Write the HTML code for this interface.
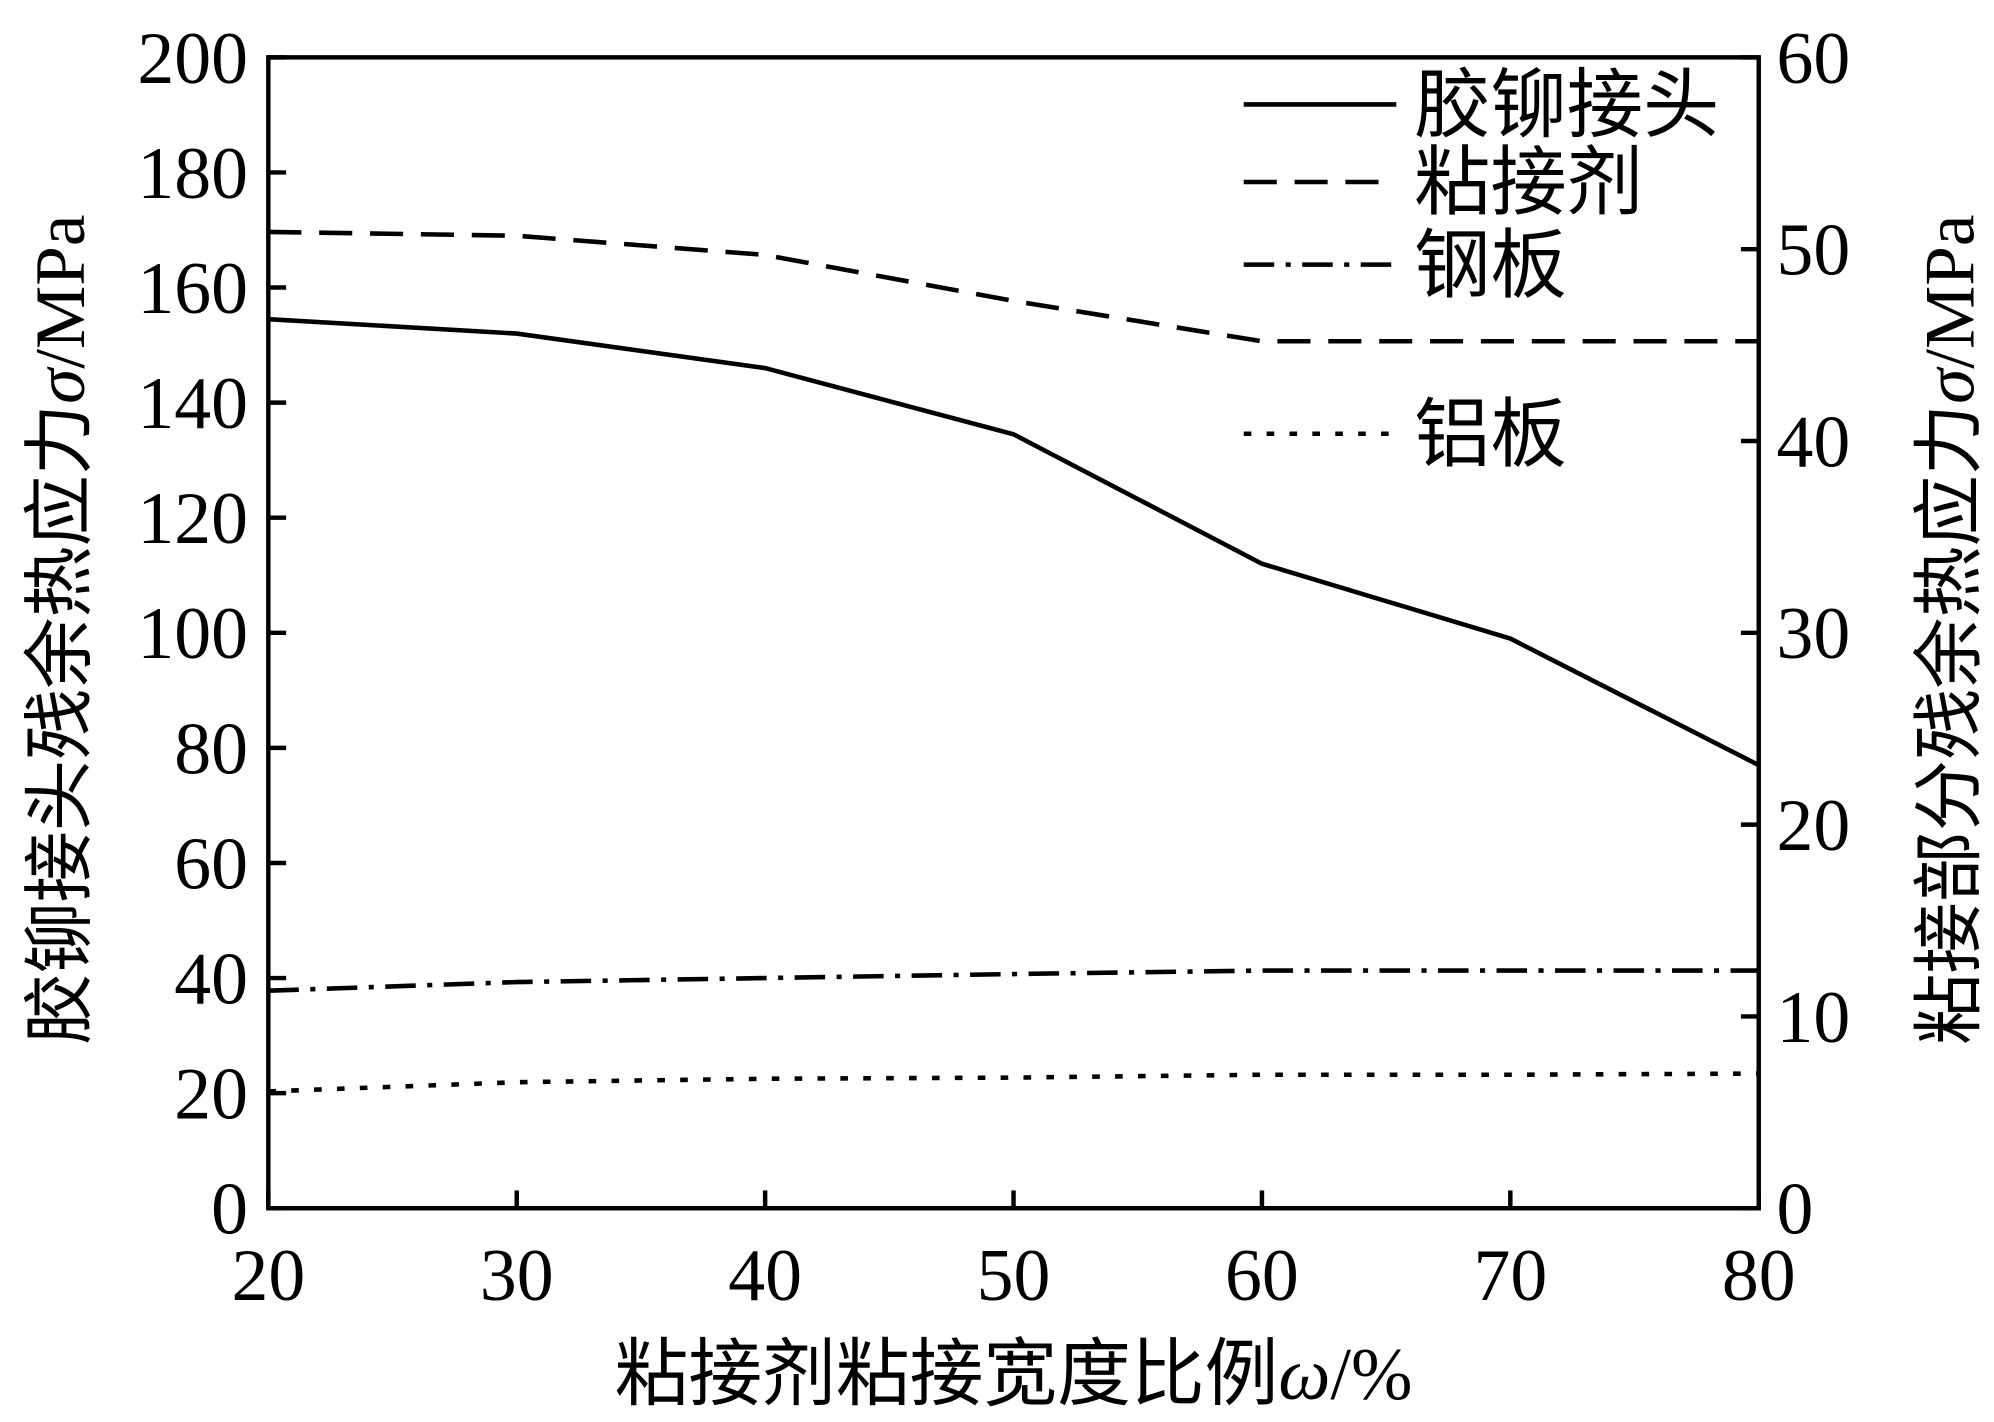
<!DOCTYPE html>
<html><head><meta charset="utf-8"><style>
html,body{margin:0;padding:0;background:#fff;}
svg{display:block;}
text{font-family:"Liberation Serif","Noto Sans CJK SC",serif;fill:#000;}
.cjk{font-family:"Noto Sans CJK SC","WenQuanYi Zen Hei",sans-serif;}
</style></head><body>
<svg id="chart" width="1994" height="1422" viewBox="0 0 1568 1118" xmlns="http://www.w3.org/2000/svg">
<g id="plot"></g>
</svg>
<script>
const categories=[20,30,40,50,60,70,80];
const jointValues=[154.5,152,146,134.5,112,99,77];
const adhesiveValues=[50.9,50.7,49.7,47.3,45.2,45.2,45.2];
const steelValues=[37.8,39.3,40,40.7,41.3,41.3,41.3];
const aluminumValues=[20.3,21.9,22.5,22.7,23.2,23.2,23.4];
const leftTicks=[0,20,40,60,80,100,120,140,160,180,200];
const rightTicks=[0,10,20,30,40,50,60];
const xTicks=[20,30,40,50,60,70,80];

const L=211,R=1383,T=45,B=950;
const x=v=>L+(v-20)/60*(R-L);
const yL=v=>B-v/200*(B-T);
const yR=v=>B-v/60*(B-T);
const NS='http://www.w3.org/2000/svg';
const g=document.getElementById('plot');
function el(tag,attrs,parent){const e=document.createElementNS(NS,tag);for(const k in attrs)e.setAttribute(k,attrs[k]);(parent||g).appendChild(e);return e;}

let f=el('rect',{x:L,y:T,width:R-L,height:B-T,fill:'none',stroke:'#000','stroke-width':3.5});



leftTicks.forEach(v=>{
  const t=el('line',{x1:L,x2:L+14,y1:yL(v),y2:yL(v),stroke:'#000','stroke-width':3.5});
  
  
  const tx=el('text',{x:L-16,y:yL(v)+20,'text-anchor':'end','font-size':58});
  tx.textContent=v;
  
  
});
rightTicks.forEach(v=>{
  const t=el('line',{x1:R-14,x2:R,y1:yR(v),y2:yR(v),stroke:'#000','stroke-width':3.5});
  
  
  const tx=el('text',{x:R+14,y:yR(v)+20,'text-anchor':'start','font-size':58});
  tx.textContent=v;
  
  
});
xTicks.forEach(v=>{
  const t=el('line',{x1:x(v),x2:x(v),y1:B,y2:B-14,stroke:'#000','stroke-width':3.5});
  
  
  const tx=el('text',{x:x(v),y:B+72,'text-anchor':'middle','font-size':58});
  tx.textContent=v;
  
  
});

function series(vals,yf,dash,name){
  const p=el('polyline',{points:vals.map((v,i)=>x(categories[i])+','+yf(v)).join(' '),fill:'none',stroke:'#000','stroke-width':3.6,'stroke-dasharray':dash});
  
  
}
series(jointValues,yL,'none','joint-line');
series(adhesiveValues,yR,'26 14','adhesive-line');
series(steelValues,yL,'24 9 4 9','steel-line');
series(aluminumValues,yL,'6 12','aluminum-line');

const legend=[['胶铆接头','none',82],['粘接剂','26 14',143],['钢板','24 9 4 9',208],['铝板','6 12',341]];
legend.forEach(([label,dash,yy])=>{
  const l=el('line',{x1:978,x2:1098,y1:yy,y2:yy,stroke:'#000','stroke-width':3.6,'stroke-dasharray':dash});
  
  
  const t=el('text',{x:1112,y:yy+21,'font-size':60,'class':'cjk'});
  t.textContent=label;
  
  
});

let t1=el('text',{transform:'translate(66,495) rotate(-90)','text-anchor':'middle','font-size':56});
t1.innerHTML='<tspan class="cjk">胶铆接头残余热应力</tspan><tspan font-style="italic">σ</tspan>/MPa';


let t2=el('text',{transform:'translate(1552,495) rotate(-90)','text-anchor':'middle','font-size':56});
t2.innerHTML='<tspan class="cjk">粘接部分残余热应力</tspan><tspan font-style="italic">σ</tspan>/MPa';


let t3=el('text',{x:797,y:1100,'text-anchor':'middle','font-size':58});
t3.innerHTML='<tspan class="cjk">粘接剂粘接宽度比例</tspan><tspan font-style="italic">ω</tspan>/%';


</script>
</body></html>
